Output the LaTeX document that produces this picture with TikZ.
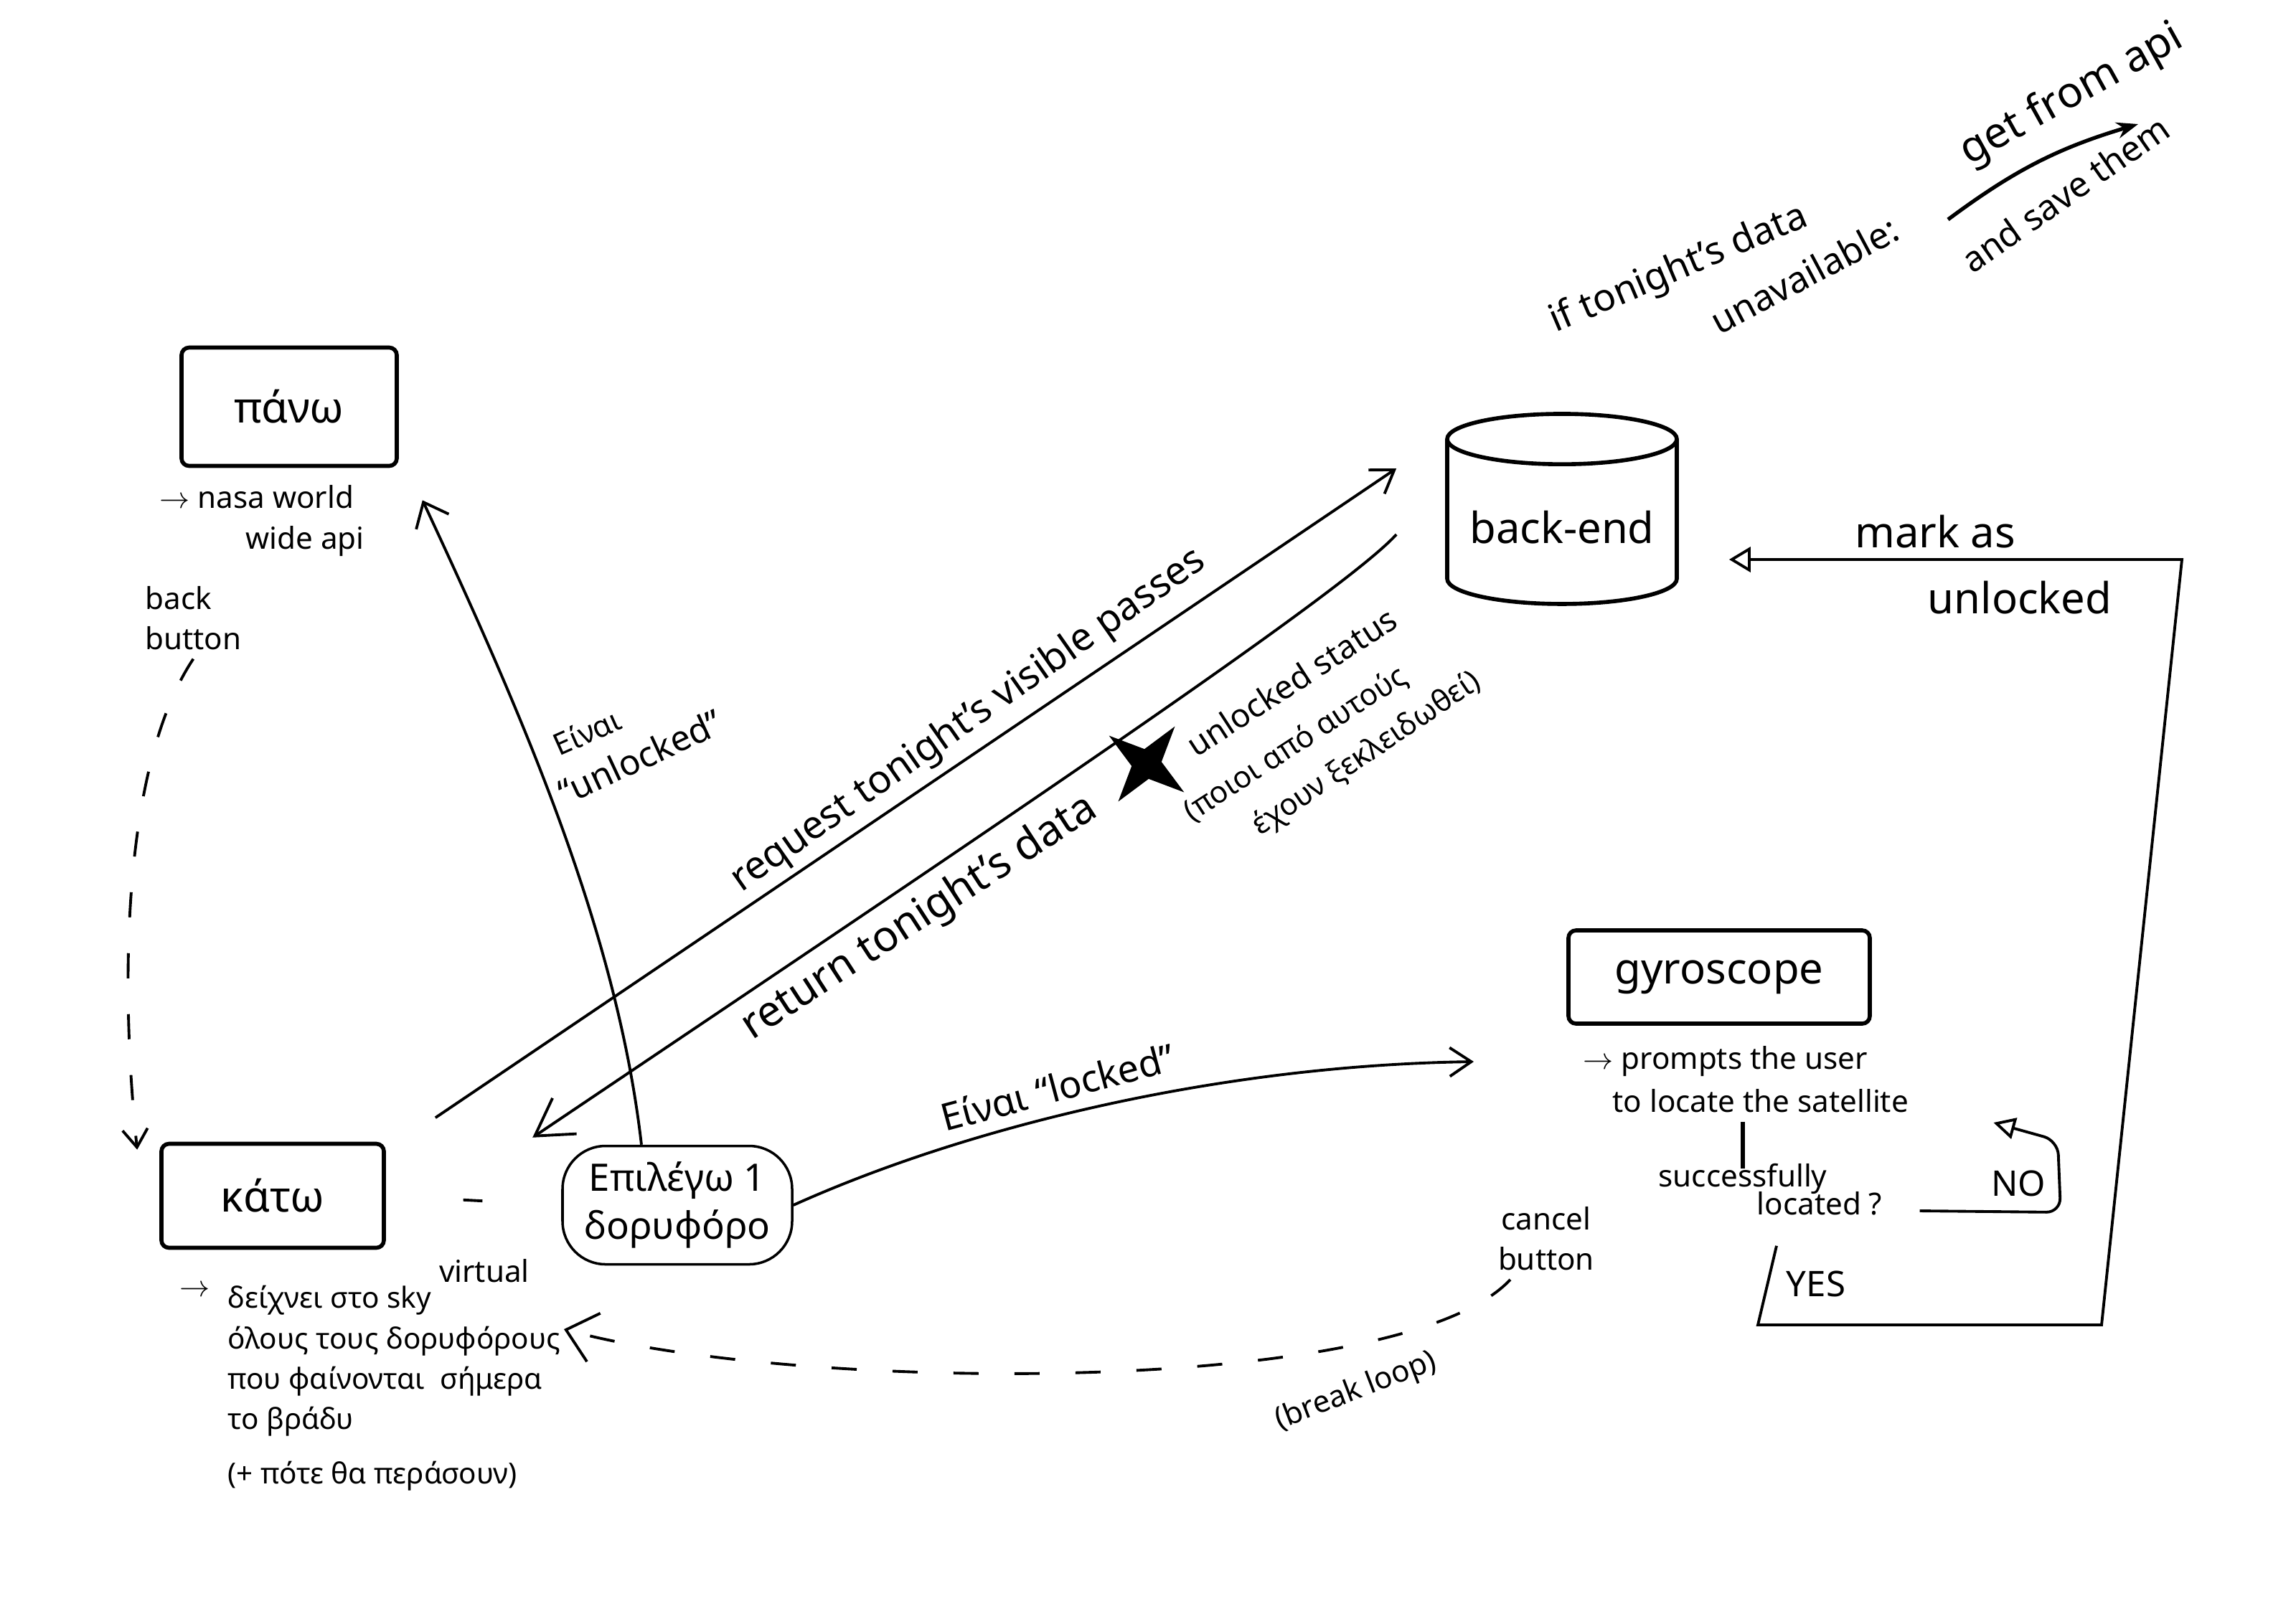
\documentclass[tikz,border=0pt]{standalone}
\usepackage{fontspec}
\setmainfont{Noto Sans}
\usetikzlibrary{shapes.geometric,arrows.meta}
\begin{document}
\begin{tikzpicture}[
  pen/.style={line width=1.1pt},
  boxpen/.style={line width=1.6pt},
  big/.style={font=\fontsize{17}{20}\selectfont},
  hand/.style={font=\fontsize{14}{17}\selectfont},
  note/.style={font=\fontsize{12}{16}\selectfont},
  screen/.style={draw, boxpen, rounded corners=3pt, big},
  blob/.style={draw, line width=1pt, rounded corners=6mm, minimum width=3.2cm, minimum height=1.65cm, align=center, font=\fontsize{15}{19}\selectfont},
  db/.style={draw, boxpen, cylinder, shape border rotate=90, aspect=0.25, minimum width=3.2cm, minimum height=2.65cm, big},
  barb/.style={-{Straight Barb[length=3mm,width=4mm]}},
  loose/.style={dash pattern=on 3.5mm off 5mm},
]
  \useasboundingbox (0,0) rectangle (32,-22.56);

  % Screens and the back-end
  \node[screen, minimum width=3.0cm, minimum height=1.65cm] (pano) at (4.03,-5.67) {πάνω};
  \node[screen, minimum width=3.1cm, minimum height=1.45cm] (kato) at (3.8,-16.67) {κάτω};
  \node[blob] (pick) at (9.44,-16.8) {Επιλέγω 1\\δορυφόρο};
  \node[db] (backend) at (21.77,-7.35) {back-end};
  \node[screen, minimum width=4.2cm, minimum height=1.3cm] (gyro) at (23.96,-13.62) {gyroscope};

  % Notes under the screens
  \node[note, anchor=west] (nasa) at (2.1,-6.93) {$\to$ nasa world};
  \node[note, anchor=west] (api) at (3.3,-7.55) {wide api};
  \node[note, align=left, anchor=north west] (back) at (1.9,-8.05) {back\\button};
  \node[align=left, anchor=north west, font=\fontsize{11.5}{16}\selectfont] (katoNote) at (3.05,-17.8) {δείχνει στο sky\\όλους τους δορυφόρους\\που φαίνονται \ σήμερα\\το βράδυ\\[2mm](+ πότε θα περάσουν)};
  \node[note, anchor=north east] (katoBullet) at (katoNote.north west) {$\to$};
  \node[note] (virt) at (6.75,-17.72) {virtual};
  \node[note, anchor=west] (prompt) at (21.94,-14.8) {$\to$ prompts the user};
  \node[note, anchor=west] (locate) at (22.35,-15.35) {to locate the satellite};
  \node[note] (succ) at (24.29,-16.43) {successfully};
  \node[note] (located) at (25.36,-16.78) {located ?};
  \node[hand] (no) at (28.13,-16.5) {NO};
  \node[hand] (yes) at (25.31,-17.9) {YES};

  % Labels on the connectors
  \node[note, rotate=24] (isU1) at (8.18,-10.2) {Είναι};
  \node[hand, rotate=25] (isU2) at (8.92,-10.55) {“unlocked”};
  \node[font=\fontsize{15.5}{18}\selectfont, rotate=35] (reqLbl) at (13.5,-10.05) {request tonight's visible passes};
  \node[big, rotate=33] (retLbl) at (12.82,-12.8) {return tonight's data};
  \node[star, star points=4, star point ratio=0.32, fill, minimum size=4.2mm, inner sep=0pt, rotate=8] (plus) at (15.98,-10.65) {};
  \node[font=\fontsize{13}{16}\selectfont, rotate=33] (unlSt) at (18.0,-9.5) {unlocked status};
  \node[note, rotate=33] (who1) at (18.06,-10.38) {(ποιοι από αυτούς};
  \node[note, rotate=34] (who2) at (19.05,-10.52) {έχουν ξεκλειδωθεί)};
  \node[font=\fontsize{15}{18}\selectfont, rotate=15] (isLocked) at (14.74,-15.15) {Είναι “locked”};
  \node[note, rotate=21] (brk) at (18.9,-19.4) {(break loop)};
  \node[note, align=center] (cancel) at (21.55,-17.27) {cancel\\button};
  \node[big] (mark1) at (26.97,-7.41) {mark as};
  \node[big] (mark2) at (28.15,-8.33) {unlocked};

  % Note about the api
  \node[font=\fontsize{15}{18}\selectfont, rotate=23] (ifData) at (23.4,-3.76) {if tonight's data};
  \node[font=\fontsize{14.5}{18}\selectfont, rotate=28] (unav) at (25.15,-3.83) {unavailable:};
  \node[big, rotate=29] (getApi) at (28.88,-1.33) {get from api};
  \node[hand, rotate=35] (save) at (28.78,-2.7) {and save them};
  \coordinate (apiA) at (27.15,-3.06);
  \coordinate (apiB) at (29.8,-1.73);
  \draw[pen, line width=1.5pt, -{Stealth[length=3mm]}] (apiA) to[bend left=10] (apiB);

  % Back button
  \draw[pen, loose, -{Straight Barb[length=2.5mm,width=3.5mm]}] (back.south) .. controls (1.75,-10.6) and (1.65,-13.5) .. ([xshift=-3.1mm,yshift=-1.1mm]kato.north west);

  % Unlocked satellite goes up
  \draw[pen, -{Straight Barb[length=3mm,width=5mm]}] ([xshift=-5mm]pick.north) .. controls (8.6,-13) and (7.3,-10) .. ([shift={(0.33,-0.45)}]pano.south east);

  % Request and return
  \draw[pen, barb] ([shift={(0.69,0.335)}]kato.north east) -- ([shift={(-0.68,0.82)}]backend.west);
  \draw[pen, -{Straight Barb[length=5mm,width=6mm]}] ([shift={(-0.68,-0.1)}]backend.west) .. controls (18.7,-8.3) and (13,-12.1) .. ([shift={(-0.4,0.1)}]pick.north west);
  \draw[pen, shorten <=10.8mm, shorten >=11mm] (kato.east) -- (pick.west);

  % Locked satellite goes to the gyroscope
  \draw[pen, barb] (pick.east) .. controls (13.5,-15.7) and (17,-14.85) .. ([xshift=-14mm]prompt.west);
  \draw[pen, line width=1.6pt] (succ.north |- locate.south) -- ([yshift=-2mm]succ.north);

  % NO loop
  \coordinate (noR) at (28.72,-16.9);
  \coordinate (noT) at (28.68,-15.9);
  \draw[pen, rounded corners=2mm, -{Triangle[open,length=3mm,width=3mm]}] ([xshift=4mm,yshift=-1mm]located.east) -- (noR) -- (noT) -- ([shift={(10.6mm,-3mm)}]locate.east);

  % YES: mark as unlocked
  \coordinate (yesB) at (24.5,-18.47);
  \coordinate (loopBR) at (29.29,-18.47);
  \coordinate (loopTR) at (30.41,-7.8);
  \draw[pen, -{Triangle[open,length=3mm,width=3.5mm]}] ([shift={(-6mm,-3mm)}]located.south) -- (yesB) -- (loopBR) -- (loopTR) -- ([shift={(7mm,-4.5mm)}]backend.east);

  % Cancel button breaks the loop
  \coordinate (loopEnd) at (7.86,-18.53);
  \draw[pen, loose, -{Straight Barb[length=4mm,width=7mm]}] ([xshift=-5mm]cancel.south) .. controls (19.5,-19.5) and (11,-19.4) .. (loopEnd);
\end{tikzpicture}
\end{document}
